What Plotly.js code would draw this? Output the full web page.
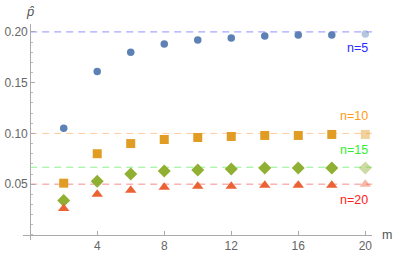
<!DOCTYPE html>
<html>
<head>
<meta charset="utf-8">
<script src="https://cdn.plot.ly/plotly-3.0.1.min.js"></script>
<style>html,body{margin:0;padding:0;background:#fff;}#chart{width:395px;height:257px;}</style>
</head>
<body>
<div id="chart"></div>
<script>
// ---- data ----
const m = [2, 4, 6, 8, 10, 12, 14, 16, 18, 20];
const n5  = [0.105, 0.161, 0.180, 0.188, 0.192, 0.194, 0.196, 0.197, 0.197, 0.198];
const n10 = [0.051, 0.080, 0.090, 0.094, 0.096, 0.097, 0.098, 0.098, 0.099, 0.099];
const n15 = [0.034, 0.053, 0.060, 0.063, 0.064, 0.065, 0.066, 0.066, 0.066, 0.066];
const n20 = [0.026, 0.040, 0.044, 0.047, 0.048, 0.048, 0.049, 0.049, 0.049, 0.050];
const refLevels = [0.2, 0.1, 0.0667, 0.05];
const seriesNames = ["n=5", "n=10", "n=15", "n=20"];
const xTicks = [4, 8, 12, 16, 20];
const yTicks = [0.05, 0.10, 0.15, 0.20];

// ---- styles ----
const markerColors = ["#5E81B5", "#E19C24", "#8FB032", "#EB6235"];
const symbols = ["circle", "square", "diamond", "triangle-up"];
const sizes = [7.5, 9, 10, 10];
const refColors = ["rgba(110,110,255,0.75)", "rgba(255,190,130,0.8)", "rgba(110,240,110,0.8)", "rgba(245,110,110,0.8)"];
const labelColors = ["#2a2aff", "#ff9a1a", "#30f030", "#ff2020"];
const labelY = [0.1845, 0.117, 0.0836, 0.0346];
const xRange = [-0.43, 20.4];
const yRange = [-0.005, 0.2078];
const yAxisPos = (0 - xRange[0]) / (xRange[1] - xRange[0]);
const xAxisPos = (0 - yRange[0]) / (yRange[1] - yRange[0]);
const opac = m.map((v, i) => i === m.length - 1 ? 0.45 : 1);

const allSeries = [n5, n10, n15, n20];
const traces = allSeries.map((ys, k) => ({
  type: "scatter", mode: "markers", x: m, y: ys, name: seriesNames[k],
  marker: {symbol: symbols[k], size: sizes[k], color: markerColors[k], opacity: opac, line: {width: 0}},
  hoverinfo: "skip", cliponaxis: false
}));

const shapes = refLevels.map((v, k) => ({
  type: "line", xref: "paper", yref: "y", x0: yAxisPos, x1: 1, y0: v, y1: v,
  line: {color: refColors[k], width: 1, dash: "7px,5px"}, layer: "below"
}));

const annotations = seriesNames.map((t, k) => ({
  xref: "x", yref: "y", x: 20.3, y: labelY[k], text: t, showarrow: false,
  xanchor: "right", yanchor: "middle",
  font: {family: "Liberation Sans, Arial, sans-serif", size: 12.5, color: labelColors[k]}
}));
annotations.push({
  xref: "paper", yref: "y", x: 1, y: 0, xshift: 8, text: "m", showarrow: false,
  xanchor: "left", yanchor: "middle",
  font: {family: "Liberation Sans, Arial, sans-serif", size: 12.5, color: "#555"}
});
annotations.push({
  xref: "x", yref: "paper", x: 0, y: 1, yshift: 3, text: "<i>p̂</i>", showarrow: false,
  xanchor: "center", yanchor: "bottom",
  font: {family: "Liberation Sans, Arial, sans-serif", size: 13, color: "#555"}
});

const axisFont = {family: "Liberation Sans, Arial, sans-serif", size: 12, color: "#666"};
const layout = {
  width: 395, height: 257,
  margin: {l: 23, r: 23, t: 24, b: 17, pad: 0},
  paper_bgcolor: "#fff", plot_bgcolor: "#fff",
  showlegend: false,
  xaxis: {
    range: xRange, anchor: "free", position: xAxisPos,
    showgrid: false, zeroline: false, showline: true, linecolor: "#aaa", linewidth: 1,
    tickmode: "array", tickvals: xTicks, ticktext: xTicks.map(String),
    ticks: "inside", ticklen: 4, tickcolor: "#aaa", tickfont: axisFont
  },
  yaxis: {
    range: yRange, anchor: "free", position: yAxisPos,
    showgrid: false, zeroline: false, showline: true, linecolor: "#aaa", linewidth: 1,
    tickmode: "array", tickvals: yTicks, ticktext: yTicks.map(v => v.toFixed(2)),
    ticks: "inside", ticklen: 4, tickcolor: "#aaa", tickfont: axisFont,
    minor: {tickmode: "linear", tick0: 0, dtick: 0.01, ticks: "inside", ticklen: 2, tickcolor: "#bbb"}
  },
  shapes: shapes,
  annotations: annotations
};

Plotly.newPlot("chart", traces, layout, {staticPlot: true, displayModeBar: false});
</script>
</body>
</html>
